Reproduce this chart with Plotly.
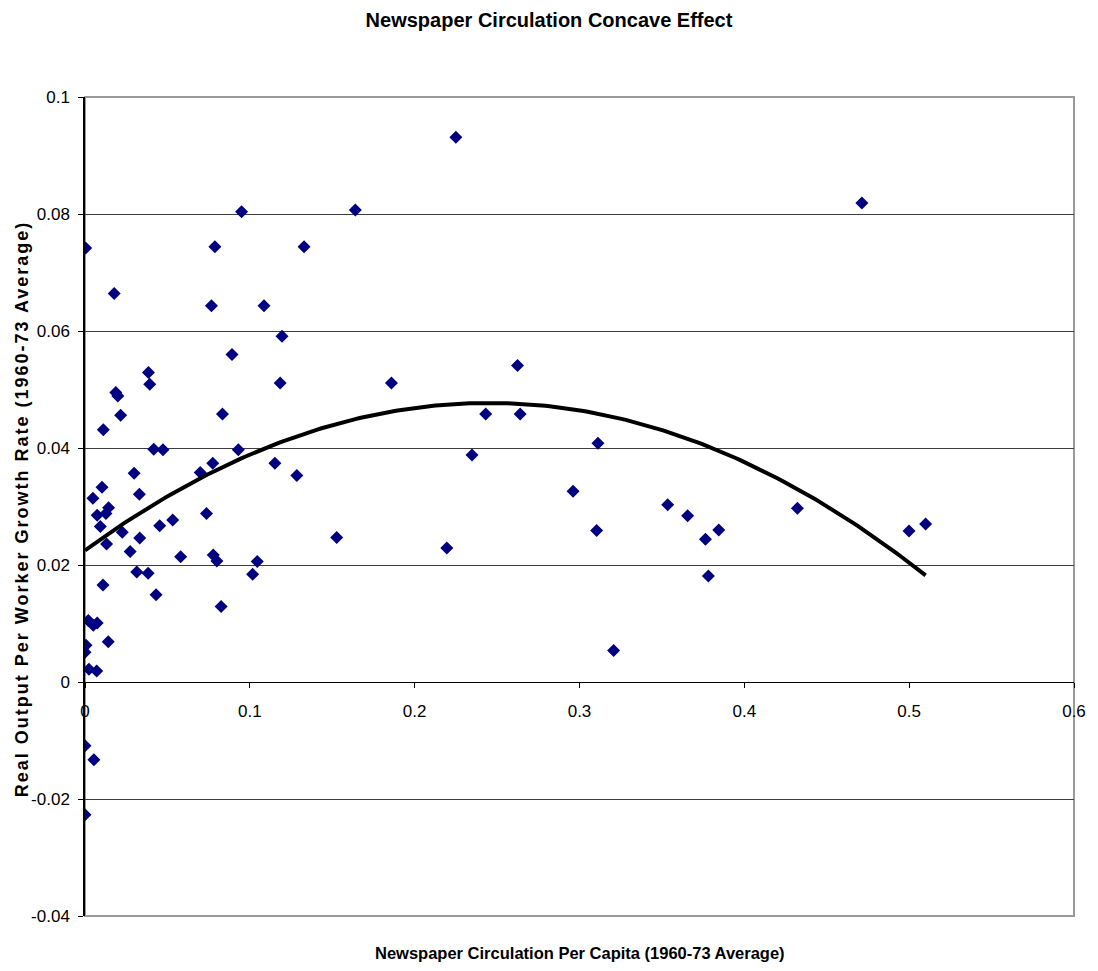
import numpy as np
import plotly.graph_objects as go

# Newspaper circulation per capita vs. real output per worker growth (1960-73 averages)
circulation = [
    0.0004, 0.0177, 0.0950, 0.0788, 0.0767, 0.1086, 0.0892, 0.0385, 0.0393, 0.0187,
    0.0199, 0.0216, 0.0834, 0.0111, 0.1195, 0.1184, 0.0417, 0.0473, 0.0930, 0.1152,
    0.0775, 0.0699, 0.0298, 0.0103, 0.0048, 0.0330, 0.0074, 0.0143, 0.0127, 0.0093,
    0.0131, 0.0226, 0.0453, 0.0532, 0.0737, 0.0332, 0.0274, 0.0580, 0.0778, 0.0800,
    0.1045, 0.1017, 0.0314, 0.0383, 0.0109, 0.0431, 0.0826, 0.0020, 0.0050, 0.0074,
    0.0141, 0.0006, 0.0000, 0.0024, 0.0071, 0.0000, 0.0054, 0.0000, 0.2250, 0.1640,
    0.1329, 0.1859, 0.2624, 0.2431, 0.2640, 0.3112, 0.2348, 0.1285, 0.1527, 0.2195,
    0.2961, 0.3104, 0.3207, 0.3535, 0.3656, 0.3764, 0.3845, 0.3782, 0.4322, 0.4713,
    0.4999, 0.5100,
]
growth = [
    0.0742, 0.0664, 0.0804, 0.0744, 0.0643, 0.0643, 0.0560, 0.0529, 0.0509, 0.0495,
    0.0489, 0.0456, 0.0458, 0.0431, 0.0591, 0.0511, 0.0398, 0.0397, 0.0397, 0.0374,
    0.0374, 0.0358, 0.0357, 0.0333, 0.0314, 0.0321, 0.0285, 0.0298, 0.0288, 0.0266,
    0.0236, 0.0256, 0.0267, 0.0277, 0.0288, 0.0246, 0.0223, 0.0214, 0.0217, 0.0207,
    0.0206, 0.0184, 0.0188, 0.0186, 0.0166, 0.0149, 0.0129, 0.0105, 0.0097, 0.0101,
    0.0069, 0.0063, 0.0051, 0.0022, 0.0019, -0.0109, -0.0133, -0.0227, 0.0931, 0.0807,
    0.0744, 0.0511, 0.0541, 0.0458, 0.0458, 0.0408, 0.0388, 0.0353, 0.0247, 0.0229,
    0.0326, 0.0259, 0.0054, 0.0303, 0.0284, 0.0244, 0.0260, 0.0181, 0.0297, 0.0819,
    0.0258, 0.0270,
]

# Quadratic trend: growth = c0 + c1*x + c2*x^2, drawn over the observed range
trend_coefs = [0.0225, 0.2057, -0.4198]
trend_range = [0.0, 0.51]

x_tick_vals = [0, 0.1, 0.2, 0.3, 0.4, 0.5, 0.6]
x_tick_text = ["0", "0.1", "0.2", "0.3", "0.4", "0.5", "0.6"]
y_tick_vals = [-0.04, -0.02, 0, 0.02, 0.04, 0.06, 0.08, 0.1]
y_tick_text = ["-0.04", "-0.02", "0", "0.02", "0.04", "0.06", "0.08", "0.1"]

title_text = "Newspaper Circulation Concave Effect"
x_title = "Newspaper Circulation Per Capita (1960-73 Average)"
y_title = "Real Output Per Worker Growth Rate (1960-73 Average)"

FONT = "Liberation Sans Narrow, Arial Narrow, Liberation Sans, Arial, sans-serif"

x_min, x_max = 0.0, 0.6
y_min, y_max = -0.04, 0.1

tx = np.linspace(trend_range[0], trend_range[1], 200)
ty = trend_coefs[0] + trend_coefs[1] * tx + trend_coefs[2] * tx ** 2

fig = go.Figure()
fig.add_trace(go.Scatter(
    x=circulation, y=growth, mode="markers",
    marker=dict(symbol="diamond", size=10, color="#000080",
                line=dict(width=0)),
    showlegend=False, hoverinfo="x+y",
))
fig.add_trace(go.Scatter(
    x=tx, y=ty, mode="lines",
    line=dict(color="black", width=4),
    showlegend=False, hoverinfo="skip",
))

# x axis crosses the y axis at zero
zero_frac = (0 - y_min) / (y_max - y_min)

fig.update_layout(
    width=1098, height=971,
    margin=dict(l=85, r=20, t=97, b=55),
    paper_bgcolor="white", plot_bgcolor="white",
    font=dict(family=FONT, size=17, color="black"),
    title=dict(
        text=f"<b>{title_text}</b>",
        x=0.5, xanchor="center", y=1 - 20 / 971, yanchor="middle",
        font=dict(family=FONT, size=20, color="black"),
    ),
    xaxis=dict(
        range=[x_min, x_max], tickvals=x_tick_vals, ticktext=x_tick_text,
        anchor="free", position=zero_frac,
        showline=True, linecolor="black", linewidth=1,
        ticks="outside", ticklen=5, tickcolor="black", tickwidth=1,
        showgrid=False, zeroline=False,
        tickfont=dict(family=FONT, size=17, color="black"),
        ticklabelstandoff=9,
    ),
    yaxis=dict(
        range=[y_min, y_max], tickvals=y_tick_vals, ticktext=y_tick_text,
        showline=True, linecolor="black", linewidth=1.5,
        ticks="outside", ticklen=5, tickcolor="black", tickwidth=1,
        showgrid=True, gridcolor="#3c3c3c", gridwidth=1,
        zeroline=False,
        tickfont=dict(family=FONT, size=17, color="black"),
        ticklabelstandoff=5,
    ),
    shapes=[
        dict(type="rect", xref="paper", yref="paper", x0=0, x1=1, y0=0, y1=1,
             line=dict(color="#9a9a9a", width=2), layer="below"),
    ],
    annotations=[
        dict(text=f"<b>{x_title}</b>", xref="paper", yref="paper",
             x=0.5, y=-37 / 819, xanchor="center", yanchor="middle",
             showarrow=False, font=dict(family=FONT, size=16.5, color="black")),
        dict(text=f"<b><span style='letter-spacing:2px'>{y_title}</span></b>",
             xref="paper", yref="paper",
             x=-63 / 993, y=0.497, xanchor="center", yanchor="middle",
             textangle=-90, showarrow=False,
             font=dict(family=FONT, size=18, color="black")),
    ],
)

fig.write_html("out.html")
